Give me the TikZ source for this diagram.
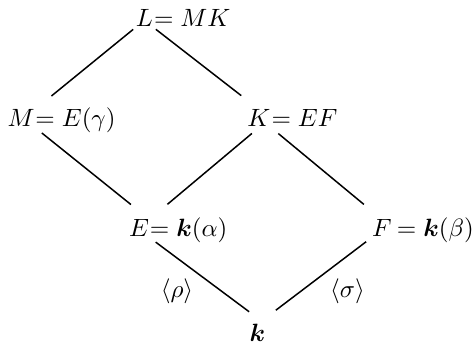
\documentclass[tikz,border=0pt]{standalone}
\usepackage{amsmath, amssymb}
\usepackage{tikz}
\usetikzlibrary{positioning}

\begin{document}
\begin{tikzpicture}[
    x=0.4pt, y=-0.4pt,
    node distance=0pt,
    vtx/.style={inner sep=0pt, anchor=base},
    rest/.style={inner sep=0pt},
    lbl/.style={inner sep=0pt},
    link/.style={line width=0.6pt, shorten <=3pt, shorten >=9pt},
  ]
  \useasboundingbox (0,0) rectangle (475,351);
  \node[vtx] (L) at (144.5,27) {$L$};
  \node[rest, base right=of L] (Lval) {$= MK$};
  \node[vtx] (M) at (21,127) {$M$};
  \node[rest, base right=of M] (Mval) {$= E(\gamma)$};
  \node[vtx] (K) at (259,127) {$K$};
  \node[rest, base right=of K] (Kval) {$= EF$};
  \node[vtx] (E) at (139,237) {$E$};
  \node[rest, base right=of E] (Eval) {$= \boldsymbol{k}(\alpha)$};
  \node[vtx] (F) at (382,237) {$F$};
  \node[rest, base right=of F] (Fval) {$\,= \boldsymbol{k}(\beta)$};
  \node[vtx] (base) at (257.5,342) {$\boldsymbol{k}$};
  \node[lbl] (rho) at (177,291.5) {$\langle\rho\rangle$};
  \node[lbl] (sigma) at (347.5,291.5) {$\langle\sigma\rangle$};
  \draw[link, shorten <=1.2pt, shorten >=8.5pt] (L.south west) -- (M.north east);
  \draw[link, shorten <=1.2pt] (L.south east) -- (K.north);
  \draw[link, shorten <=3.5pt, shorten >=9.5pt] (M.south east) -- (E.north east);
  \draw[link, shorten <=3.7pt, shorten >=9.4pt] (K.south) -- (E.north east);
  \draw[link, shorten <=3.8pt, shorten >=9.4pt] (K.south east) -- (F.north);
  \draw[link, shorten <=3.1pt, shorten >=8.3pt] (E.south east) -- (base.north east);
  \draw[link, shorten <=2.8pt, shorten >=9.2pt] (F.south west) -- (base.north);
\end{tikzpicture}
\end{document}
